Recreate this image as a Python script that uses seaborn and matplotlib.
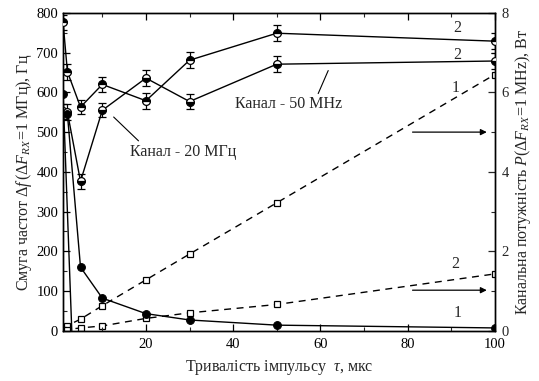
import matplotlib
matplotlib.use("Agg")
import matplotlib.pyplot as plt
import seaborn as sns
import numpy as np
from matplotlib.ticker import MultipleLocator

sns.set_theme(style="ticks")
plt.rcParams["font.family"] = ["Liberation Serif", "DejaVu Serif"]
plt.rcParams["mathtext.fontset"] = "custom"
plt.rcParams["mathtext.rm"] = "Liberation Serif"
plt.rcParams["mathtext.it"] = "Liberation Serif:italic"

# Pulse durations, us
tau = [1, 2, 5, 10, 20, 30, 50, 100]

# Frequency band (Hz), half-filled markers, curves "2"
band_a = [776, 652, 563, 620, 579, 681, 749, 729]
band_b = [552, 550, 376, 555, 636, 577, 671, 679]
band_err = [20, 20, 18, 18, 20, 20, 20, 20]

# Frequency band (Hz), filled markers, curve "1"
tau_c = [2, 5, 10, 20, 30, 50, 100]
band_c = [545, 160, 82, 43, 27, 14, 7]
tau_d = [1, 3]
band_d = [596, 0]

# Channel power (W), open squares, dashed
power_1 = [0.06, 0.13, 0.29, 0.63, 1.28, 1.93, 3.22, 6.45]
power_2 = [0.01, 0.03, 0.07, 0.12, 0.31, 0.45, 0.66, 1.43]

fig = plt.figure(figsize=(5.39, 3.81), dpi=100)
ax = fig.add_axes([0.117, 0.132, 0.801, 0.834])
ax2 = ax.twinx()

lw = 1.0
ms = 5.6

# error bars first so markers sit on top
ax.errorbar(tau, band_a, yerr=band_err, fmt="none", ecolor="black",
            elinewidth=0.9, capsize=3, capthick=0.9, zorder=2)
ax.errorbar(tau, band_b, yerr=band_err, fmt="none", ecolor="black",
            elinewidth=0.9, capsize=3, capthick=0.9, zorder=2)

sns.lineplot(x=tau, y=band_a, ax=ax, color="black", lw=lw, marker="o",
             markersize=ms, fillstyle="top", markerfacecolor="black",
             markerfacecoloralt="white", markeredgecolor="black",
             markeredgewidth=0.9, zorder=3)
sns.lineplot(x=tau, y=band_b, ax=ax, color="black", lw=lw, marker="o",
             markersize=ms, fillstyle="bottom", markerfacecolor="black",
             markerfacecoloralt="white", markeredgecolor="black",
             markeredgewidth=0.9, zorder=3)
sns.lineplot(x=tau_c, y=band_c, ax=ax, color="black", lw=lw, marker="o",
             markersize=ms, markerfacecolor="black", markeredgecolor="black",
             zorder=3)
sns.lineplot(x=tau_d, y=band_d, ax=ax, color="black", lw=lw, marker="o",
             markersize=ms, markerfacecolor="black", markeredgecolor="black",
             markevery=[0], zorder=3)

dash = (0, (5, 4))
sns.lineplot(x=tau, y=power_1, ax=ax2, color="black", lw=lw, linestyle=dash,
             marker="s", markersize=5, markerfacecolor="white",
             markeredgecolor="black", markeredgewidth=0.9)
sns.lineplot(x=tau, y=power_2, ax=ax2, color="black", lw=lw, linestyle=dash,
             marker="s", markersize=5, markerfacecolor="white",
             markeredgecolor="black", markeredgewidth=0.9)

ax.set_xlim(1, 100)
ax.set_ylim(0, 800)
ax2.set_ylim(0, 8)
ax.set_zorder(ax2.get_zorder() + 1)
ax.patch.set_visible(False)

ax.xaxis.set_major_locator(MultipleLocator(20))
ax.xaxis.set_minor_locator(MultipleLocator(10))
ax.yaxis.set_major_locator(MultipleLocator(100))
ax.yaxis.set_minor_locator(MultipleLocator(50))
ax2.yaxis.set_major_locator(MultipleLocator(2))
ax2.yaxis.set_minor_locator(MultipleLocator(1))

fs = 10.5
ax.tick_params(axis="both", which="major", direction="in", length=5,
               width=0.9, labelsize=fs, top=True, colors="black")
ax.tick_params(axis="x", which="major", pad=5)
ax.tick_params(axis="both", which="minor", direction="in", length=3,
               width=0.8, top=True)
ax2.tick_params(axis="y", which="major", direction="in", length=5,
                width=0.9, labelsize=fs, pad=5)
ax2.tick_params(axis="y", which="minor", direction="in", length=3, width=0.8)
for a in (ax, ax2):
    for s in a.spines.values():
        s.set_visible(True)
        s.set_linewidth(1.0)
        s.set_color("black")

lab = 11.5
ax.set_xlabel(r"Тривалість імпульсу  $\mathit{\tau}$, мкс", fontsize=lab,
              labelpad=5)
ax.set_ylabel(r"Смуга частот $\Delta \mathit{f}\,(\Delta \mathit{F}_{RX}\!=\!1$ МГц), Гц",
              fontsize=lab, labelpad=2)
ax2.set_ylabel(r"Канальна потужність $\mathit{P}(\Delta \mathit{F}_{RX}\!=\!1$ MHz), Вт",
               fontsize=lab, labelpad=3)

# channel annotations
tfs = 11.5
ax.text(16.3, 451, "Канал - 20 МГц", fontsize=tfs, va="center", ha="left")
ax.plot([18.3, 12.6], [478, 538], color="black", lw=0.8)
ax.text(40.5, 572, "Канал - 50 MHz", fontsize=tfs, va="center", ha="left")
ax.plot([59.5, 61.8], [597, 655], color="black", lw=0.8)

# curve numbers
ax.text(91.5, 762, "2", fontsize=tfs, ha="center", va="center")
ax.text(91.5, 694, "2", fontsize=tfs, ha="center", va="center")
ax.text(91.0, 612, "1", fontsize=tfs, ha="center", va="center")
ax.text(91.0, 168, "2", fontsize=tfs, ha="center", va="center")
ax.text(91.5, 45, "1", fontsize=tfs, ha="center", va="center")

# arrows pointing to the power axis
arrow = dict(arrowstyle="-|>", color="black", lw=0.9, mutation_scale=9)
ax.annotate("", xy=(98.8, 500), xytext=(80.5, 500), arrowprops=arrow)
ax.annotate("", xy=(98.8, 102), xytext=(80.5, 102), arrowprops=arrow)

fig.savefig("out.png", dpi=100)
